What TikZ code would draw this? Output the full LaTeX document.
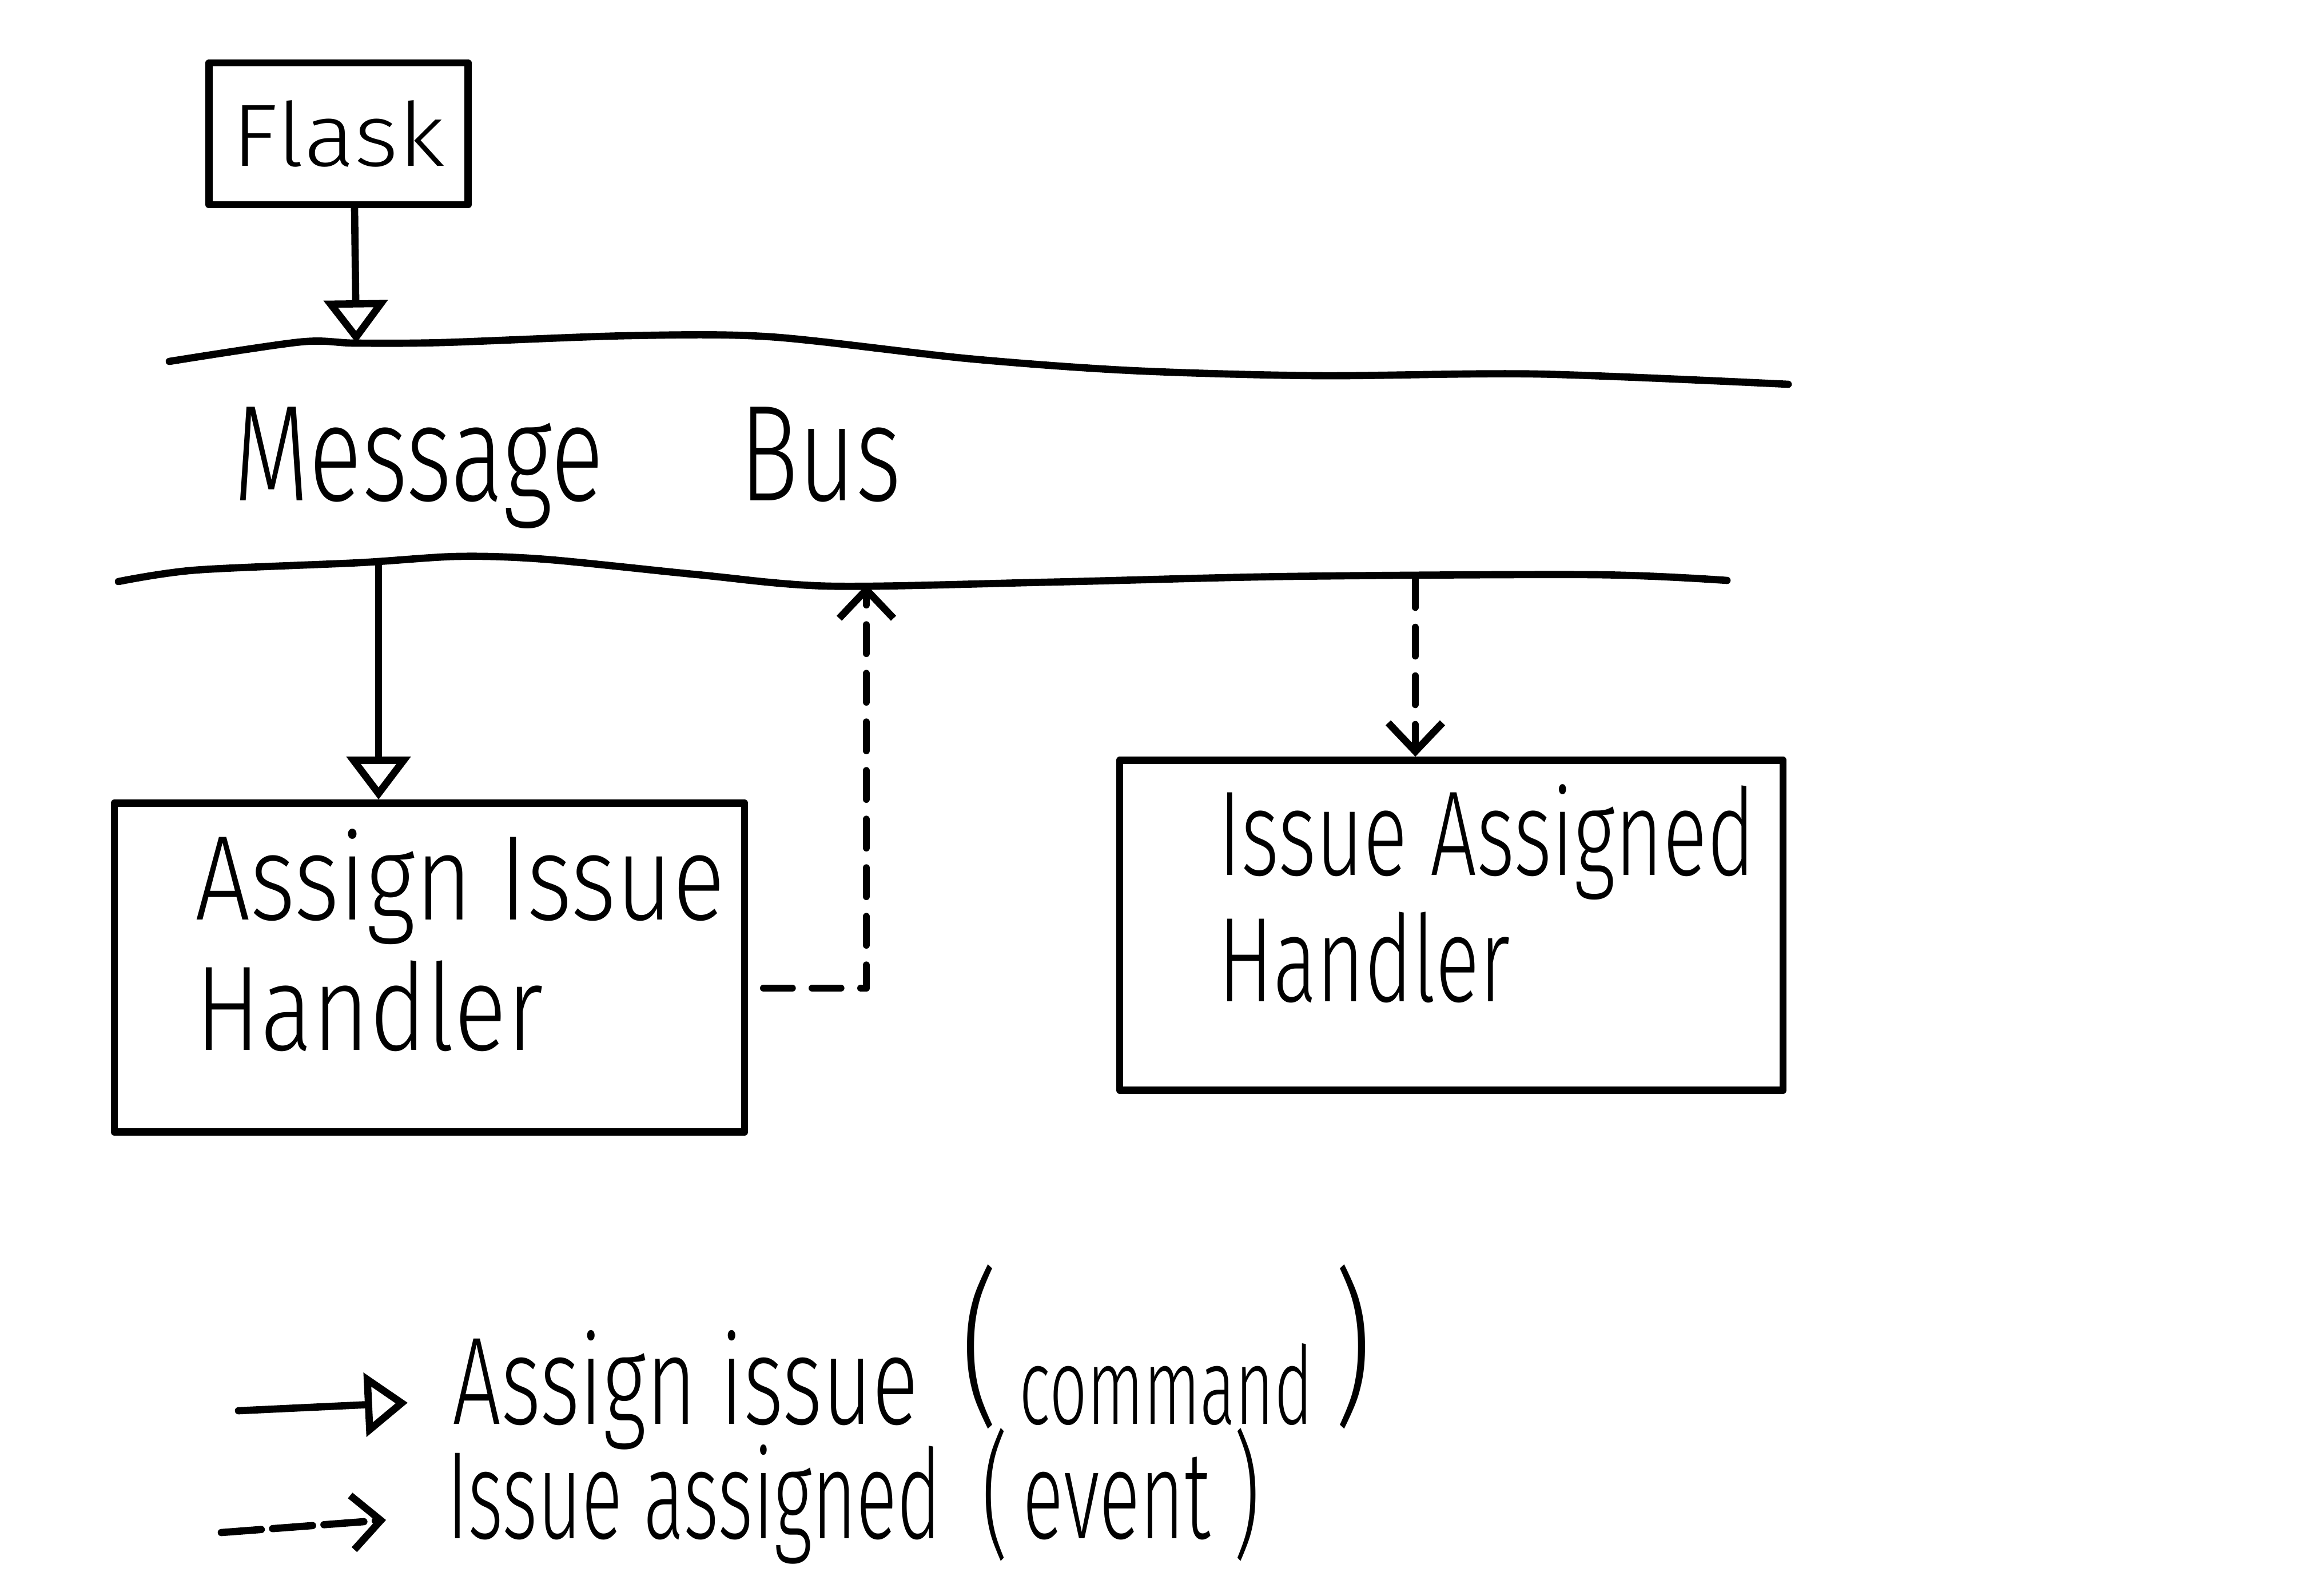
\documentclass[tikz,border=0pt]{standalone}
\usepackage{fontspec}
\setmainfont{Fira Sans Light}[FakeStretch=0.85]
\newfontfamily\flaskfont{Fira Sans Light}[FakeStretch=1.08]
\newfontfamily\busfont{Fira Sans Light}[FakeStretch=0.72]
\newfontfamily\assignfont{Fira Sans Light}[FakeStretch=0.81]
\newfontfamily\assignedfont{Fira Sans Light}[FakeStretch=0.68]
\newfontfamily\cmdfont{Fira Sans Light}[FakeStretch=0.69]
\newfontfamily\evtfont{Fira Sans Light}[FakeStretch=0.61]
\usetikzlibrary{arrows.meta, positioning, calc}

% hand drawn brackets of the legend
\newcommand{\bigparen}[1]{\raisebox{9pt}{\fontsize{84}{84}\selectfont #1}}
\newcommand{\midparen}[1]{\raisebox{-2pt}{\fontsize{68}{68}\selectfont #1}}

\begin{document}
\begin{tikzpicture}[line width=3.6pt, line cap=round, line join=round,
    box/.style={draw, rectangle, inner sep=0pt},
    hand text/.style={align=left, inner sep=0pt},
    command/.style={-{Triangle[length=0.75cm, width=1.1cm, fill=white]}},
    event/.style={dash pattern=on 0.5cm off 0.35cm, -{Straight Barb[length=0.5cm, width=0.95cm]}}]
        \useasboundingbox (0,0) rectangle (40.5,-27.9);

        % Nodes
        \node[box, font=\flaskfont\fontsize{44}{48}\selectfont, minimum width=4.53cm, minimum height=2.48cm] (flask) at (5.92,-2.34) {Flask};
        \node[hand text, font=\busfont\fontsize{68}{72}\selectfont, anchor=base west] (bus) at (4.02,-8.75) {Message\hspace{1.9cm} Bus};
        \node[box, minimum width=11.02cm, minimum height=5.75cm] (assign) at (7.51,-16.92) {};
        \node[hand text, font=\assignfont\fontsize{60}{65}\selectfont, below right=0.45cm and 1.41cm of assign.north west] (assign text) {Assign Issue\\Handler};
        \node[box, minimum width=11.60cm, minimum height=5.77cm] (assigned) at (25.38,-16.18) {};
        \node[hand text, font=\assignedfont\fontsize{60}{63}\selectfont, below right=0.42cm and 1.72cm of assigned.north west] (assigned text) {Issue Assigned\\Handler};

        % Bus lines
        \draw plot[smooth] coordinates {(2.96,-6.32) (5.25,-5.98) (6.21,-6.00) (7.74,-5.99) (10.99,-5.87)
            (13.48,-5.89) (16.92,-6.27) (19.79,-6.48) (23.04,-6.57) (26.87,-6.54) (31.27,-6.72)};
        \draw plot[smooth] coordinates {(2.07,-10.17) (3.41,-9.97) (6.28,-9.84) (8.00,-9.73) (9.53,-9.78)
            (12.21,-10.05) (14.51,-10.25) (18.34,-10.18) (22.54,-10.08) (27.90,-10.05) (30.20,-10.15)};
        \coordinate (bus top) at (6.23,-6.00);
        \coordinate (bus cmd) at (6.62,-9.84);
        \coordinate (bus up) at (15.15,-10.22);
        \coordinate (bus down) at (24.75,-10.12);
        \coordinate (event start) at ($(assign.east)+(0.27,-0.36)$);

        % Arrows
        \draw[command] ([xshift=0.28cm]flask.south) -- (bus top);
        \draw[command] (bus cmd) -- (bus cmd |- assign.north);
        \draw[event] (event start) -| (bus up);
        \draw[event] (bus down) -- (bus down |- assigned.north);

        % Legend
        \coordinate (cmd from) at (4.17,-24.67);
        \coordinate (cmd to) at (7.13,-24.53);
        \coordinate (evt from) at (3.87,-26.80);
        \coordinate (evt to) at (6.75,-26.58);
        \draw[command] (cmd from) -- (cmd to);
        \draw[event, dash pattern=on 0.7cm off 0.2cm] (evt from) -- (evt to);
        \node[hand text, font=\cmdfont\fontsize{62}{66}\selectfont, anchor=base west] (cmd label) at (7.85,-24.90)
            {Assign issue\hspace{0.75cm}\bigparen{(}\,{\evtfont\fontsize{54}{60}\selectfont command}\,\bigparen{)}};
        \node[hand text, font=\evtfont\fontsize{62}{66}\selectfont, anchor=base west] (evt label) at (7.75,-26.90)
            {Issue assigned\hspace{0.7cm}\midparen{(}\hspace{0.25cm}event\hspace{0.4cm}\midparen{)}};
\end{tikzpicture}
\end{document}
